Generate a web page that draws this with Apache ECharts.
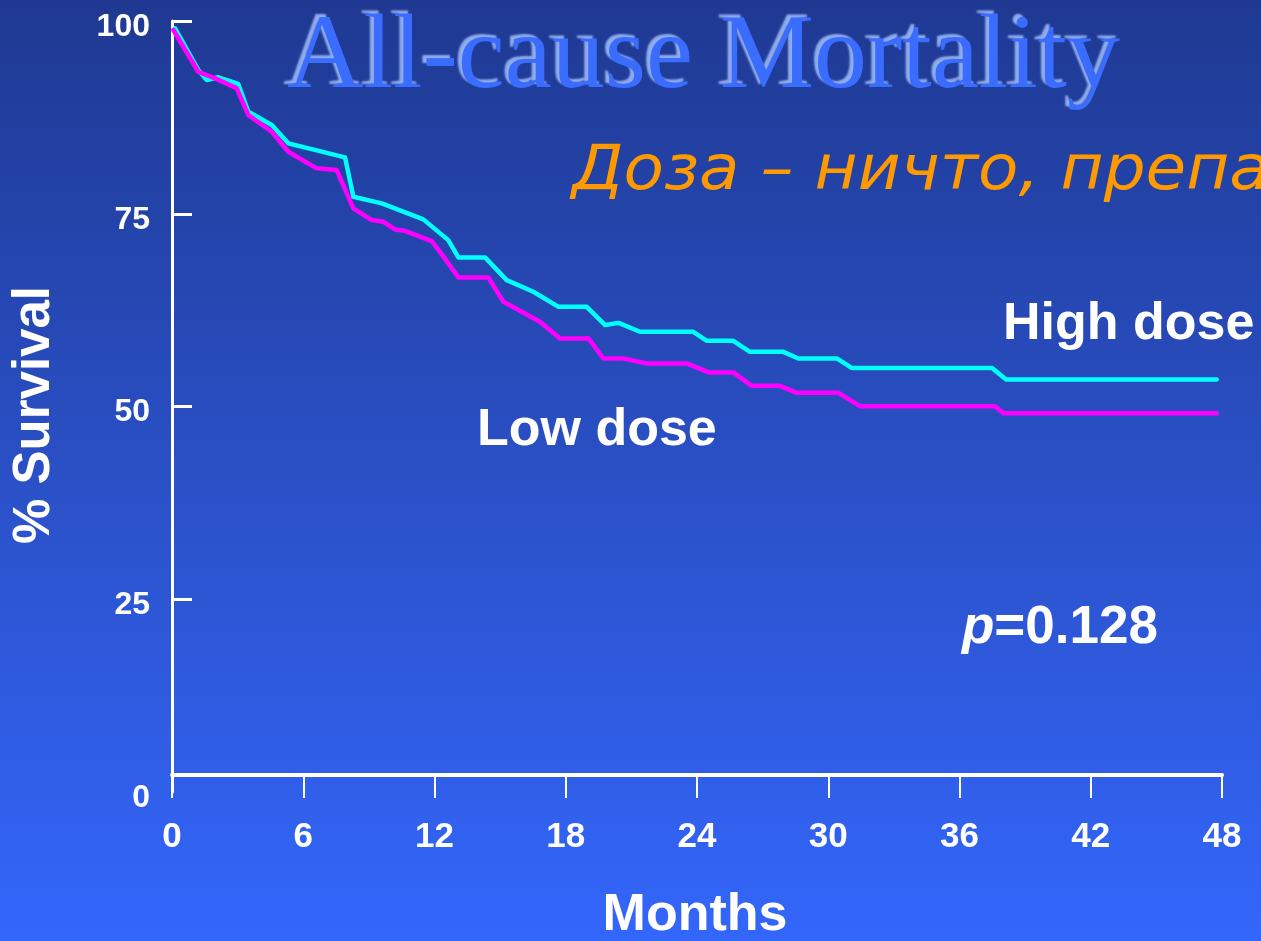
<!DOCTYPE html>
<html>
<head>
<meta charset="utf-8">
<title>All-cause Mortality</title>
<script src="https://cdn.jsdelivr.net/npm/echarts@6/dist/echarts.min.js"></script>
<style>
  html, body { margin: 0; padding: 0; background: #2a4cc0; }
  #chart { width: 1261px; height: 941px; }
</style>
</head>
<body>
<div id="chart"></div>
<script>
// Kaplan-Meier survival, all-cause mortality, by dose group (months, % surviving)
const highDoseMonths = [0.14, 1.20, 1.59, 2.12, 3.03, 3.49, 4.56, 5.32, 7.91, 8.29, 9.59, 11.49, 12.63, 13.09, 14.31, 15.30, 16.52, 17.67, 18.96, 19.80, 20.42, 21.39, 23.83, 24.45, 25.66, 26.42, 27.95, 28.63, 30.39, 31.07, 37.49, 38.13, 47.76];
const highDoseSurvival = [99.05, 93.65, 92.35, 92.70, 91.84, 88.23, 86.51, 84.13, 82.31, 77.20, 76.35, 74.27, 71.58, 69.34, 69.34, 66.39, 64.88, 62.93, 62.93, 60.56, 60.85, 59.69, 59.69, 58.52, 58.52, 57.09, 57.09, 56.23, 56.23, 55.00, 55.00, 53.51, 53.51];

const lowDoseMonths = [0.06, 1.20, 1.97, 2.96, 3.49, 4.56, 5.32, 6.61, 7.53, 8.29, 9.13, 9.67, 10.19, 10.65, 11.87, 12.25, 13.09, 14.46, 15.15, 16.82, 17.74, 19.04, 19.72, 20.63, 21.70, 23.53, 24.53, 25.66, 26.50, 27.79, 28.57, 30.47, 31.45, 37.62, 38.01, 47.76];
const lowDoseSurvival = [98.83, 93.42, 92.56, 91.27, 87.80, 85.64, 83.04, 80.89, 80.67, 75.70, 74.18, 73.96, 72.97, 72.79, 71.45, 70.06, 66.74, 66.74, 63.58, 60.98, 58.83, 58.83, 56.23, 56.23, 55.59, 55.59, 54.42, 54.42, 52.68, 52.68, 51.77, 51.77, 50.04, 50.04, 49.14, 49.14];

// Axis ticks
const monthTicks = [0, 6, 12, 18, 24, 30, 36, 42, 48];
const survivalTicks = [0, 25, 50, 75, 100];
const survivalTickMarks = [25, 50, 75, 100];

const seriesNames = ['High dose', 'Low dose'];
const pValueText = '0.128';

const zip = (xs, ys) => xs.map((x, i) => [x, ys[i]]);

const chart = echarts.init(document.getElementById('chart'), null, { renderer: 'canvas' });

const white = '#ffffff';
const boldSans = 'Liberation Sans, Arial, Helvetica, sans-serif';

chart.setOption({
  animation: false,
  backgroundColor: {
    type: 'linear', x: 0, y: 0, x2: 0, y2: 1,
    colorStops: [
      { offset: 0, color: '#1f3992' },
      { offset: 0.5, color: '#2a50c6' },
      { offset: 1, color: '#3366fb' }
    ]
  },
  grid: { left: 172, right: 39, top: 21, bottom: 149 },
  xAxis: {
    type: 'value',
    min: monthTicks[0],
    max: monthTicks[monthTicks.length - 1],
    interval: 6,
    position: 'bottom',
    offset: -17,
    axisLine: { onZero: false, lineStyle: { color: white, width: 4 } },
    axisTick: { show: true, length: 23, lineStyle: { color: white, width: 2 } },
    axisLabel: {
      color: white, fontFamily: boldSans, fontWeight: 'bold', fontSize: 35, margin: 45,
      customValues: monthTicks
    },
    splitLine: { show: false }
  },
  yAxis: {
    type: 'value',
    min: 0,
    max: 100,
    interval: 25,
    axisLine: { show: true, lineStyle: { color: white, width: 3 } },
    axisTick: { show: true, inside: true, length: 20, lineStyle: { color: white, width: 3 }, customValues: survivalTickMarks },
    axisLabel: {
      margin: 22,
      customValues: survivalTicks,
      formatter: '{n|{value}}',
      rich: {
        n: {
          color: white, fontFamily: boldSans, fontWeight: 'bold', fontSize: 32,
          padding: [12, 0, 0, 0]
        }
      }
    },
    splitLine: { show: false }
  },
  series: [
    {
      name: seriesNames[0],
      type: 'line',
      data: zip(highDoseMonths, highDoseSurvival),
      showSymbol: false,
      symbol: 'none',
      lineStyle: { color: '#00ffff', width: 4.5, cap: 'round', join: 'round' },
      z: 3
    },
    {
      name: seriesNames[1],
      type: 'line',
      data: zip(lowDoseMonths, lowDoseSurvival),
      showSymbol: false,
      symbol: 'none',
      lineStyle: { color: '#ff00ff', width: 4.5, cap: 'round', join: 'round' },
      z: 4
    }
  ],
  graphic: [
    {
      type: 'text', x: 287, y: 6, z: 1,
      style: {
        text: 'All-cause Mortality',
        font: '106px "Liberation Serif", "Times New Roman", serif',
        fill: '#3a6cff',
        textShadowColor: 'rgba(150,178,240,0.95)',
        textShadowOffsetX: -4,
        textShadowOffsetY: -3,
        textShadowBlur: 2
      }
    },
    {
      type: 'text', x: 572, y: 173, z: 1, scaleX: 1.065,
      style: {
        text: 'Доза – ничто, препарат',
        font: 'italic 62px "DejaVu Sans", Verdana, sans-serif',
        fill: '#ff9900',
        verticalAlign: 'middle'
      }
    },
    {
      type: 'text', x: 1003, y: 325, z: 5,
      style: {
        text: seriesNames[0],
        font: 'bold 52px ' + boldSans,
        fill: white,
        verticalAlign: 'middle'
      }
    },
    {
      type: 'text', x: 477, y: 431, z: 5,
      style: {
        text: seriesNames[1],
        font: 'bold 52px ' + boldSans,
        fill: white,
        verticalAlign: 'middle'
      }
    },
    {
      type: 'text', x: 962, y: 628, z: 5,
      style: {
        text: '{p|p}{v|=' + pValueText + '}',
        verticalAlign: 'middle',
        rich: {
          p: { font: 'italic bold 53px ' + boldSans, fill: white },
          v: { font: 'bold 53px ' + boldSans, fill: white }
        }
      }
    },
    {
      type: 'text', x: 695, y: 916, z: 5,
      style: {
        text: 'Months',
        font: 'bold 52px ' + boldSans,
        fill: white,
        align: 'center',
        verticalAlign: 'middle'
      }
    },
    {
      type: 'text', x: 35, y: 415, z: 5, rotation: Math.PI / 2,
      style: {
        text: '% Survival',
        font: 'bold 51px ' + boldSans,
        fill: white,
        align: 'center',
        verticalAlign: 'middle'
      }
    }
  ]
});
</script>
</body>
</html>
